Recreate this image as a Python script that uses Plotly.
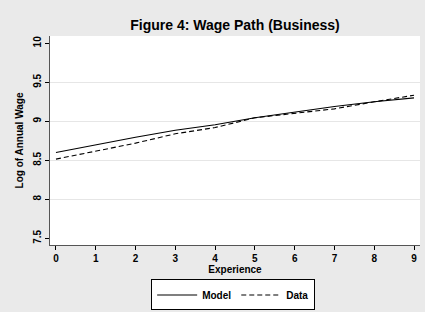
import plotly.graph_objects as go

experience = [0, 1, 2, 3, 4, 5, 6, 7, 8, 9]
model = [8.60, 8.70, 8.795, 8.885, 8.955, 9.045, 9.12, 9.19, 9.25, 9.30]
data = [8.515, 8.615, 8.72, 8.84, 8.92, 9.045, 9.10, 9.16, 9.25, 9.335]

x_ticks = [0, 1, 2, 3, 4, 5, 6, 7, 8, 9]
y_ticks = [7.5, 8, 8.5, 9, 9.5, 10]
y_ticktext = ["7.5", "8", "8.5", "9", "9.5", "10"]
grid_vals = [8, 8.5, 9, 9.5]

FONT = "Liberation Sans, Arial, sans-serif"
BG = "#EAEAEA"

fig = go.Figure()
fig.add_trace(go.Scatter(x=experience, y=model, mode="lines", name="Model",
                         line=dict(color="black", width=1.1, dash="solid")))
fig.add_trace(go.Scatter(x=experience, y=data, mode="lines", name="Data",
                         line=dict(color="black", width=1.1, dash="5px,3px")))
fig.add_trace(go.Scatter(x=[experience[0]], y=[model[0]], mode="markers",
                         marker=dict(opacity=0), showlegend=False, hoverinfo="skip",
                         yaxis="y2"))

yr = [7.414, 10.094]
fig.update_layout(
    width=425, height=312,
    margin=dict(l=50, r=5, t=36, b=67, autoexpand=False),
    paper_bgcolor=BG, plot_bgcolor="white",
    font=dict(family=FONT, size=10, color="black"),
    title=dict(text="Figure 4: Wage Path (Business)", x=0.553, xanchor="center",
               y=0.92, yanchor="middle",
               font=dict(family=FONT, size=14, color="black", weight="bold")),
    xaxis=dict(range=[-0.15, 9.15], tickvals=x_ticks, ticks="outside", ticklen=4,
               tickwidth=1, tickcolor="black", showgrid=False, zeroline=False,
               showline=True, linecolor="#555555", linewidth=1.2, automargin=False,
               tickfont=dict(family=FONT, size=10, weight="bold"),
               title=dict(text="Experience", standoff=2,
                          font=dict(family=FONT, size=10, weight="bold"))),
    yaxis=dict(range=yr, tickvals=y_ticks, ticktext=y_ticktext, tickangle=-90,
               ticks="outside", ticklen=4, tickwidth=1, tickcolor="black",
               showgrid=False, zeroline=False, showline=True, automargin=False,
               linecolor="#555555", linewidth=1.2,
               tickfont=dict(family=FONT, size=10, weight="bold"),
               title=dict(text="Log of Annual Wage", standoff=6,
                          font=dict(family=FONT, size=10, weight="bold"))),
    yaxis2=dict(range=yr, overlaying="y", tickvals=grid_vals, showticklabels=False,
                showgrid=True, gridcolor="#E6E6E6", gridwidth=1, zeroline=False,
                showline=False, ticks="", automargin=False),
    legend=dict(orientation="h", x=0.495, xanchor="center", y=-0.165, yanchor="top",
                bgcolor="white", bordercolor="black", borderwidth=1,
                font=dict(family=FONT, size=10, weight="bold"),
                itemwidth=40, tracegroupgap=0),
    showlegend=True,
)

fig.write_html("out.html", config={"displayModeBar": False},
               post_script="document.body.style.margin='0';")
